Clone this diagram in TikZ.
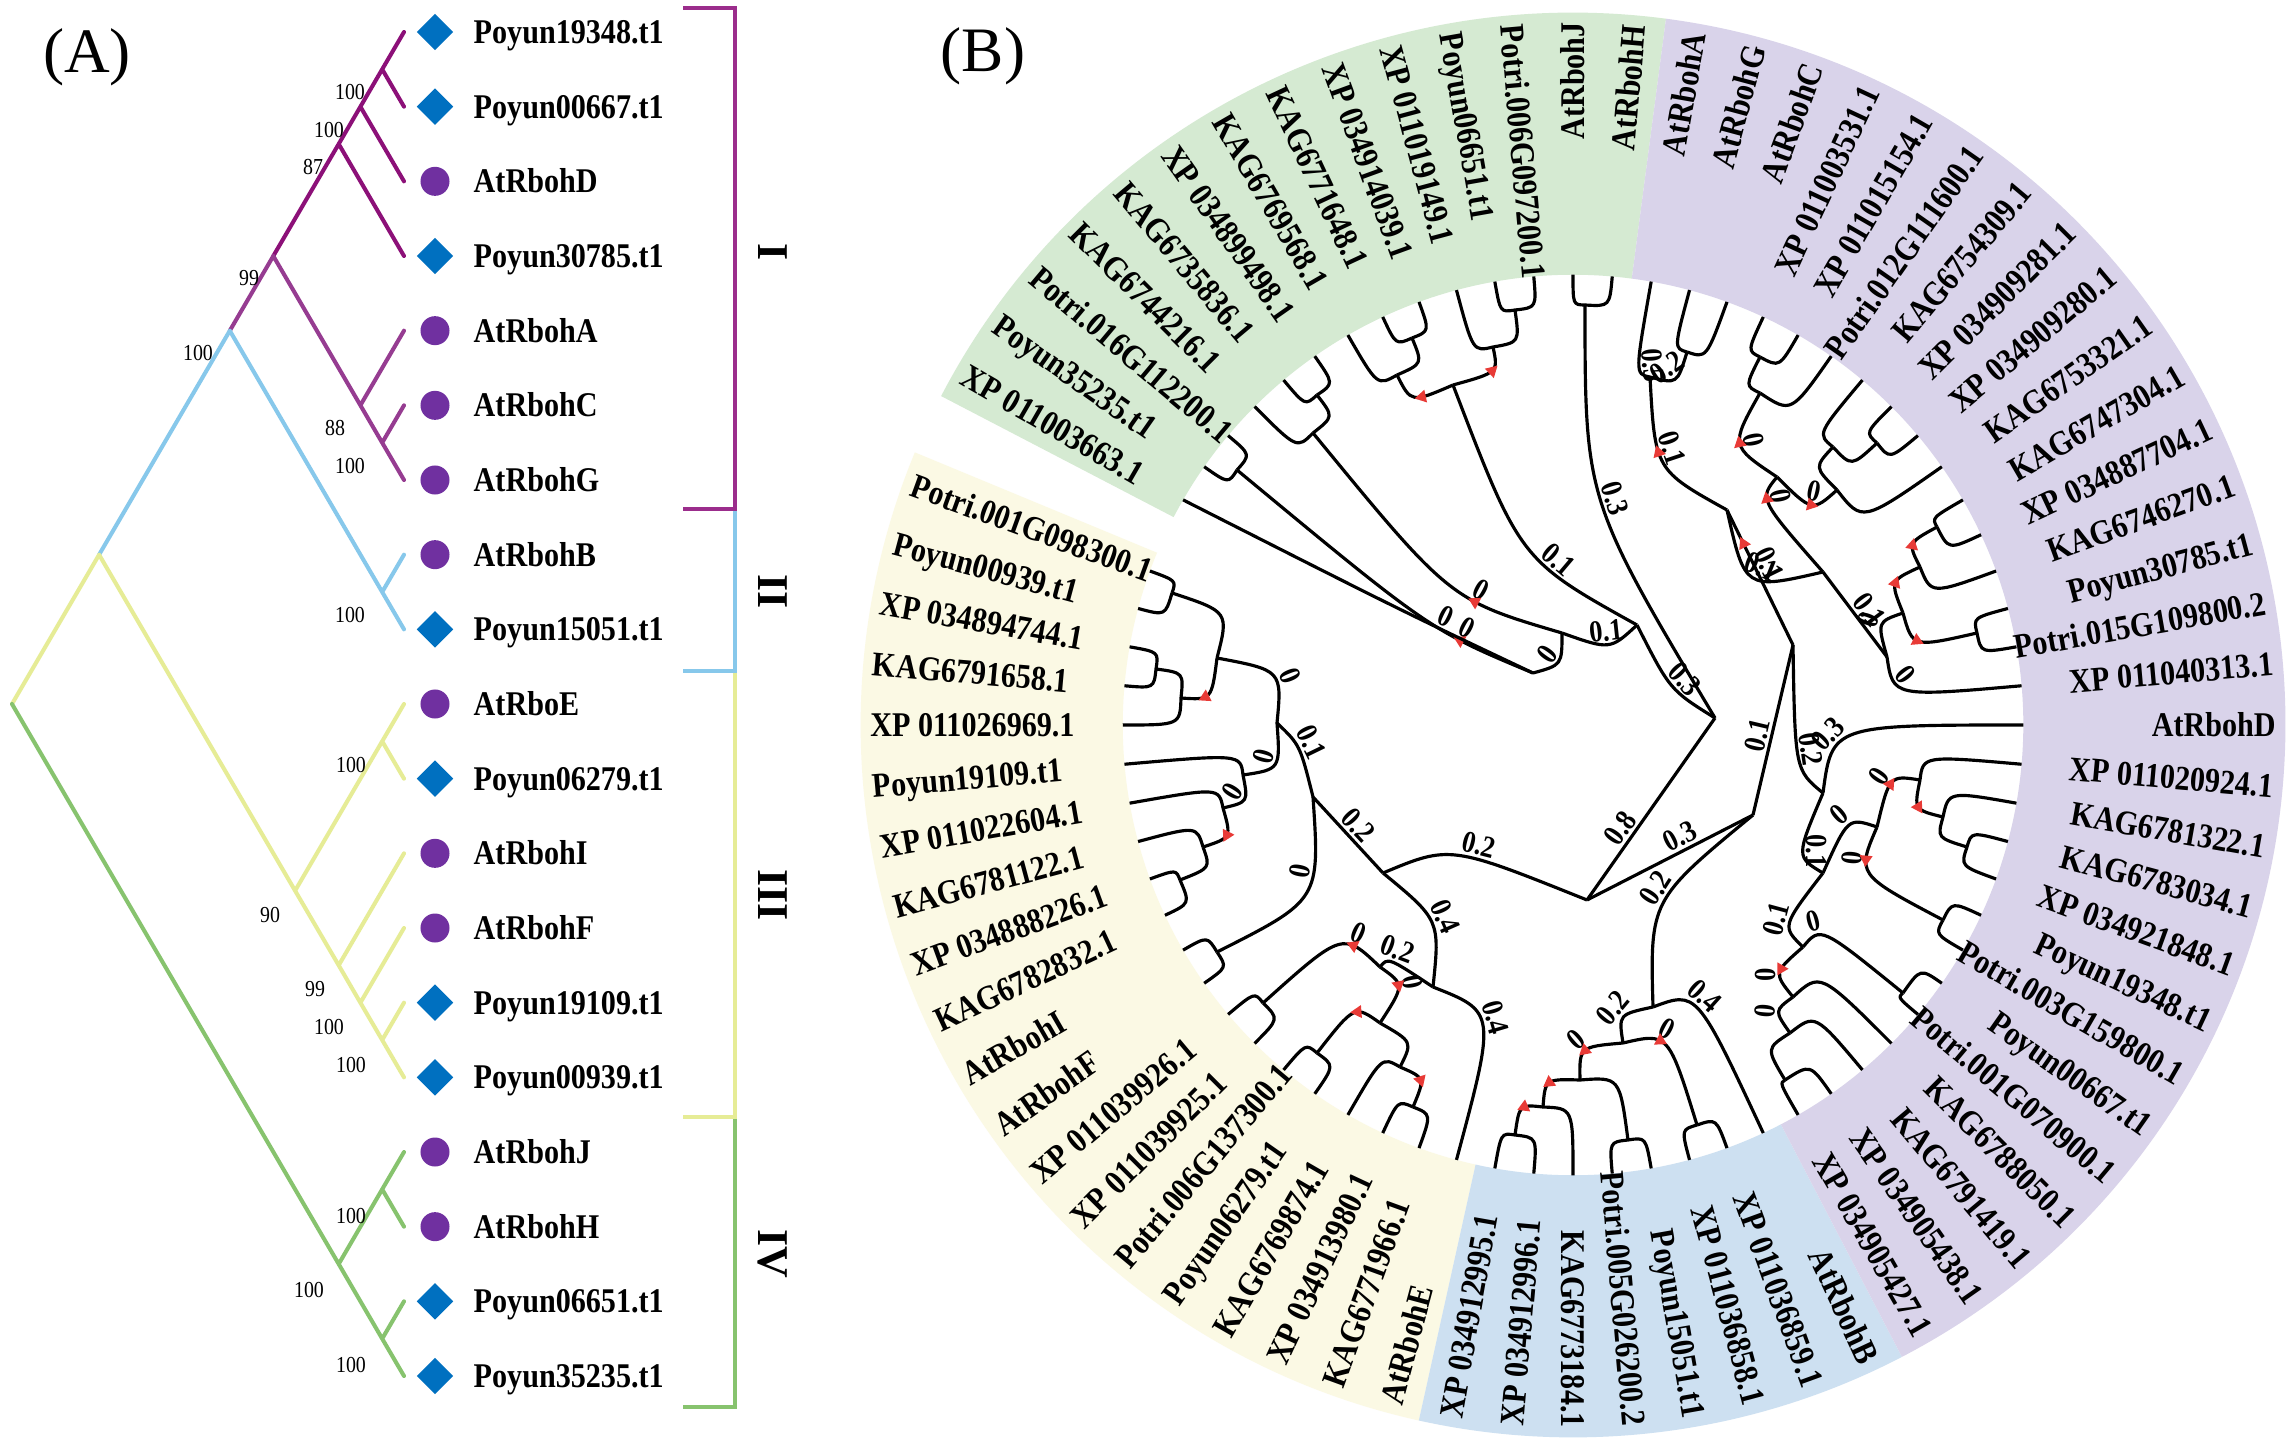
\documentclass[tikz,border=0pt]{standalone}
\usepackage{fontspec}
\setmainfont{Liberation Serif}
\newfontfamily\labf{Liberation Serif}[FakeStretch=0.87]
\usetikzlibrary{calc,shapes.geometric}
\definecolor{Ia}{RGB}{140,16,120}
\definecolor{Ib}{RGB}{150,60,145}
\definecolor{lb}{RGB}{135,200,235}
\definecolor{yl}{RGB}{230,236,150}
\definecolor{gr}{RGB}{135,195,110}
\definecolor{brI}{RGB}{155,45,140}
\definecolor{dblue}{RGB}{0,112,192}
\definecolor{cpurple}{RGB}{112,48,160}
\definecolor{gfill}{RGB}{213,234,210}
\definecolor{pfill}{RGB}{217,211,234}
\definecolor{bfill}{RGB}{205,224,241}
\definecolor{yfill}{RGB}{251,249,228}
\definecolor{trired}{RGB}{232,58,54}
\newcommand\ipt[3]{\coordinate (#1) at (#2,{1444-#3});}
\newcommand\tedge[3]{\draw[tl] let \p1=($(#1)-(O)$), \n1={veclen(\x1,\y1)} in (#1) .. controls ($(O)!\n1!(#2)$) .. (#2) #3;}
\newcommand\cedge[4]{\draw[tl] (#1) .. controls #2 .. (#3) #4;}
\newcommand\ringsec[3]{\fill[#1] ($(O)+(#2:4.5cm)$) arc[start angle=#2, end angle=#3, radius=4.5cm] -- ($(O)+(#3:7.12cm)$) arc[start angle=#3, end angle=#2, radius=7.12cm] -- cycle;}
\begin{document}
\begin{tikzpicture}[x=0.01cm,y=0.01cm,
  tl/.style={line width=0.9pt, line join=round},
  al/.style={line width=1.15pt, line cap=round},
  bl/.style={font=\labf\bfseries\fontsize{8.7pt}{9pt}\selectfont, sloped, above, inner sep=0.6pt},
  tri/.style={regular polygon, regular polygon sides=3, shape border rotate=-90, fill=trired, draw=none, inner sep=0pt, minimum size=0.15cm, sloped, allow upside down},
  lbl/.style={font=\labf\bfseries\fontsize{9.85pt}{11pt}\selectfont, inner sep=0pt, text height=6.6pt, text depth=0pt},
  bs/.style={font=\labf\fontsize{6.5pt}{7pt}\selectfont, inner sep=0pt},
  mkd/.style={diamond, fill=dblue, inner sep=0pt, minimum width=0.37cm, minimum height=0.37cm},
  mkc/.style={circle, fill=cpurple, inner sep=0pt, minimum size=0.29cm},
  rom/.style={font=\bfseries\fontsize{12.5pt}{13pt}\selectfont, rotate=-90, inner sep=0pt},
  pan/.style={font=\fontsize{18pt}{20pt}\selectfont, inner sep=0pt}
  ]
\useasboundingbox (0,0) rectangle (2290,1444);
\fill[white] (0,0) rectangle (2290,1444);

% ================= Panel A =================
\node[pan] (pA) at (87,{1444-57}) {(A)};
\foreach \i in {0,...,18} {\coordinate (t\i) at (404,{1444-32-74.667*\i});}
\ipt{a01}{382.2}{69.3}
\ipt{a012}{360.4}{106.7}
\ipt{a0123}{338.7}{144}
\ipt{aCG}{382.2}{442.7}
\ipt{aAG}{360.4}{405.3}
\ipt{aI}{273.3}{256}
\ipt{aII}{382.2}{592}
\ipt{aI2}{229.8}{330.7}
\ipt{aE}{382.2}{741.3}
\ipt{a1314}{382.2}{1040}
\ipt{a1214}{360.4}{1002.7}
\ipt{a1114}{338.7}{965.3}
\ipt{aIII}{295.1}{890.7}
\ipt{aX}{99.1}{554.7}
\ipt{aJH}{382.2}{1189.3}
\ipt{a1718}{382.2}{1338.7}
\ipt{aIV}{338.7}{1264}
\ipt{aR}{12}{704}

\draw[al,Ia] (t0)--(a01) (t1)--(a01) (a01)--(a012) (t2)--(a012) (a012)--(a0123) (t3)--(a0123) (a0123)--(aI);
\draw[al,Ib] (aI)--(aAG) (t4)--(aAG) (aCG)--(aAG) (t5)--(aCG) (t6)--(aCG) (aI)--(aI2);
\draw[al,lb] (aI2)--(aII) (t7)--(aII) (t8)--(aII) (aI2)--(aX);
\draw[al,yl] (aR)--(aX) (aX)--(aIII) (aIII)--(aE) (t9)--(aE) (t10)--(aE) (aIII)--(a1114) (t11)--(a1114) (a1114)--(a1214) (t12)--(a1214) (a1214)--(a1314) (t13)--(a1314) (t14)--(a1314);
\draw[al,gr] (aR)--(aIV) (aIV)--(aJH) (t15)--(aJH) (t16)--(aJH) (aIV)--(a1718) (t17)--(a1718) (t18)--(a1718);

\foreach \x/\y/\v [count=\k] in {350/92/100, 329/130/100, 313/167/87, 249/278/99, 198/353/100, 335/428/88, 350/466/100, 350/615/100, 351/765/100, 270/915/90, 315/989/99, 329/1027/100, 351/1065/100, 351/1216/100, 309/1290/100, 351/1365/100}
  {\node[bs] (bs\k) at (\x,{1444-\y}) {\v};}

\foreach \i in {0,1,3,8,10,13,14,17,18} {\node[mkd] (md\i) at (435,{1444-32-74.667*\i}) {};}
\foreach \i in {2,4,5,6,7,9,11,12,15,16} {\node[mkc] (mc\i) at (435,{1444-32-74.667*\i}) {};}
\foreach \i/\n in {0/Poyun19348.t1, 1/Poyun00667.t1, 2/AtRbohD, 3/Poyun30785.t1, 4/AtRbohA, 5/AtRbohC, 6/AtRbohG, 7/AtRbohB, 8/Poyun15051.t1, 9/AtRboE, 10/Poyun06279.t1, 11/AtRbohI, 12/AtRbohF, 13/Poyun19109.t1, 14/Poyun00939.t1, 15/AtRbohJ, 16/AtRbohH, 17/Poyun06651.t1, 18/Poyun35235.t1}
  {\node[lbl, anchor=west] (na\i) at (473,{1444-32-74.667*\i}) {\n};}

\draw[line width=0.9pt, gr] (683,{1444-1117}) -- (735,{1444-1117}) -- (735,{1444-1407}) -- (683,{1444-1407});
\draw[line width=0.9pt, yl] (683,{1444-671}) -- (735,{1444-671}) -- (735,{1444-1117}) -- (683,{1444-1117});
\draw[line width=0.9pt, lb] (683,{1444-509}) -- (735,{1444-509}) -- (735,{1444-671}) -- (683,{1444-671});
\draw[line width=0.9pt, brI] (683,{1444-8}) -- (735,{1444-8}) -- (735,{1444-509}) -- (683,{1444-509});
\node[rom] (rI) at (773,{1444-252}) {I};
\node[rom] (rII) at (773,{1444-592}) {II};
\node[rom] (rIII) at (773,{1444-895}) {III};
\node[rom] (rIV) at (773,{1444-1254}) {IV};

% ================= Panel B =================
\node[pan] (pB) at (983,{1444-56}) {(B)};
\ipt{O}{1573}{725}
\ringsec{gfill}{82.5}{152.5}
\ringsec{yfill}{157.5}{257.5}
\ringsec{bfill}{257.5}{297.5}
\ringsec{pfill}{297.5}{442.5}

\foreach \a in {0,5,...,150} {\coordinate (L\a) at ($(O)+(\a:4.5cm)$);}
\foreach \a in {160,165,...,355} {\coordinate (L\a) at ($(O)+(\a:4.5cm)$);}

\foreach \a/\t in {0/AtRbohD, 5/XP 011040313.1, 10/Potri.015G109800.2, 15/Poyun30785.t1, 20/KAG6746270.1, 25/XP 034887704.1, 30/KAG6747304.1, 35/KAG6753321.1, 40/XP 034909280.1, 45/XP 034909281.1, 50/KAG6754309.1, 55/Potri.012G111600.1, 60/XP 011015154.1, 65/XP 011003531.1, 70/AtRbohC, 75/AtRbohG, 80/AtRbohA, 85/AtRbohH, 90/AtRbohJ, 270/KAG6773184.1, 275/Potri.005G026200.2, 280/Poyun15051.t1, 285/XP 011036858.1, 290/XP 011036859.1, 295/AtRbohB, 300/XP 034905427.1, 305/XP 034905438.1, 310/KAG6791419.1, 315/KAG6788050.1, 320/Potri.001G070900.1, 325/Poyun00667.t1, 330/Potri.003G159800.1, 335/Poyun19348.t1, 340/XP 034921848.1, 345/KAG6783034.1, 350/KAG6781322.1, 355/XP 011020924.1}
  {\node[lbl, anchor=east, rotate=\a] (lb\a) at ($(O)+(\a:7.03cm)$) {\t};}
\foreach \a/\t in {95/Potri.006G097200.1, 100/Poyun06651.t1, 105/XP 011019149.1, 110/XP 034914039.1, 115/KAG6771648.1, 120/KAG6769568.1, 125/XP 034899498.1, 130/KAG6735836.1, 135/KAG6744216.1, 140/Potri.016G112200.1, 145/Poyun35235.t1, 150/XP 011003663.1, 160/Potri.001G098300.1, 165/Poyun00939.t1, 170/XP 034894744.1, 175/KAG6791658.1, 180/XP 011026969.1, 185/Poyun19109.t1, 190/XP 011022604.1, 195/KAG6781122.1, 200/XP 034888226.1, 205/KAG6782832.1, 210/AtRbohI, 215/AtRbohF, 220/XP 011039926.1, 225/XP 011039925.1, 230/Potri.006G137300.1, 235/Poyun06279.t1, 240/KAG6769874.1, 245/XP 034913980.1, 250/KAG6771966.1, 255/AtRbohE, 260/XP 034912995.1, 265/XP 034912996.1}
  {\pgfmathsetmacro\rr{\a-180}\node[lbl, anchor=west, rotate=\rr] (lb\a) at ($(O)+(\a:7.03cm)$) {\t};}

% internal nodes
\ipt{R}{1587}{900}
\ipt{G0}{1715}{718}
\ipt{P0}{1753}{815}
\ipt{P1}{1793}{645}
\ipt{Y0}{1383}{873}
\ipt{gJH}{1585}{305}
\ipt{gC}{1637}{625}
\ipt{gB}{1453}{385}
\ipt{gR}{1493}{347}
\ipt{c95}{1515}{310}
\ipt{gL}{1397}{375}
\ipt{c110}{1412}{338}
\ipt{gD}{1562}{633}
\ipt{gT}{1313}{433}
\ipt{c125}{1317}{395}
\ipt{gE}{1533}{673}
\ipt{c140}{1237}{470}
\ipt{pX}{1727}{510}
\ipt{pAGC}{1650}{377}
\ipt{cAG}{1687}{352}
\ipt{pY}{1823}{572}
\ipt{Q}{1777}{477}
\ipt{q1}{1760}{393}
\ipt{c65}{1760}{357}
\ipt{q2}{1837}{490}
\ipt{q3}{1833}{447}
\ipt{c45}{1877}{443}
\ipt{pZ}{1887}{657}
\ipt{pW}{1903}{613}
\ipt{pV}{1920}{567}
\ipt{pU}{1937}{527}
\ipt{c15}{1977}{633}
\ipt{pB0}{1823}{793}
\ipt{pB1}{1823}{873}
\ipt{pB2}{1877}{827}
\ipt{pB4}{1920}{780}
\ipt{pB5}{1943}{817}
\ipt{c345}{1967}{847}
\ipt{c335}{1943}{920}
\ipt{pB3}{1803}{947}
\ipt{c325}{1903}{993}
\ipt{pB6}{1793}{997}
\ipt{pB7}{1790}{1033}
\ipt{c305}{1785}{1080}
\ipt{bB0}{1653}{1007}
\ipt{bB1}{1623}{1043}
\ipt{bB2}{1580}{1080}
\ipt{c280}{1628}{1140}
\ipt{bB3}{1543}{1107}
\ipt{c265}{1515}{1135}
\ipt{c290}{1697}{1125}
\ipt{Y1}{1313}{797}
\ipt{Y3}{1277}{723}
\ipt{ya}{1217}{658}
\ipt{c160}{1172}{593}
\ipt{yb}{1181}{698}
\ipt{c170}{1156}{669}
\ipt{yc}{1243}{775}
\ipt{yd}{1223}{808}
\ipt{ye}{1203}{847}
\ipt{c200}{1180}{880}
\ipt{c210}{1217}{952}
\ipt{Y2}{1433}{987}
\ipt{Y4}{1380}{967}
\ipt{c220}{1263}{1003}
\ipt{Y5}{1380}{1023}
\ipt{c230}{1317}{1053}
\ipt{Y6}{1400}{1067}
\ipt{c245}{1413}{1107}

% central
\draw[tl] (R) -- (G0) node[bl,pos=.35]{0.8};
\draw[tl] (R) -- (P0) node[bl,pos=.6]{0.3};
\cedge{R}{(1450,599)}{Y0}{node[bl,pos=.4]{0.2}}
\draw[tl] (P0) -- (P1) node[bl,pos=.45]{0.1};
\cedge{P0}{(1650,544)}{bB0}{node[bl,pos=.45]{0.2}}
\draw[tl] (P1) -- (pX) node[bl,pos=.55]{0.1} node[tri,pos=.75]{};
\cedge{P1}{(1795,674)}{pB0}{node[bl,pos=.45]{0.2}}

% green
\cedge{G0}{(1585,944)}{gJH}{node[bl,pos=.5]{0.3}}
\cedge{G0}{(1670,754)}{gC}{node[bl,pos=.45]{0.3}}
\cedge{gC}{(1520,884)}{gB}{node[bl,pos=.35]{0.1}}
\cedge{gC}{(1610,794)}{gD}{node[bl,pos=.5]{0.1}}
\cedge{gD}{(1450,844)}{gT}{node[bl,pos=.35]{0} node[tri,pos=.35]{}}
\cedge{gD}{(1562,779)}{gE}{node[bl,pos=.5]{0}}
\cedge{gE}{(1430,814)}{c140}{node[bl,pos=.3]{0} node[tri,pos=.3]{}}
\cedge{gE}{(1400,834)}{L150}{node[bl,pos=.3]{0}}
\tedge{gB}{gL}{node[tri,pos=.35]{}}
\tedge{gB}{gR}{node[tri,pos=.5]{}}
\tedge{gR}{c95}{} \tedge{gR}{L105}{}
\tedge{c95}{L95}{} \tedge{c95}{L100}{}
\tedge{gL}{c110}{} \tedge{gL}{L120}{}
\tedge{c110}{L110}{} \tedge{c110}{L115}{}
\tedge{gJH}{L85}{} \tedge{gJH}{L90}{}
\tedge{gT}{c125}{} \tedge{gT}{L135}{}
\tedge{c125}{L125}{} \tedge{c125}{L130}{}
\tedge{c140}{L140}{} \tedge{c140}{L145}{}

% purple top
\cedge{pX}{(1655,974)}{pAGC}{node[bl,pos=.6]{0.1} node[tri,pos=.6]{}}
\cedge{pX}{(1745,854)}{pY}{node[bl,pos=.55]{0.1}}
\tedge{pAGC}{L80}{node[bl,pos=.45]{0.5}}
\tedge{pAGC}{cAG}{node[bl,pos=.5]{0.2}}
\tedge{cAG}{L75}{} \tedge{cAG}{L70}{}
\tedge{pY}{Q}{node[bl,pos=.6]{0} node[tri,pos=.6]{}}
\tedge{Q}{q1}{node[bl,pos=.5]{0} node[tri,pos=.5]{}}
\tedge{Q}{q2}{node[bl,pos=.5]{0} node[tri,pos=.5]{}}
\tedge{q1}{c65}{} \tedge{q1}{L55}{}
\tedge{c65}{L65}{} \tedge{c65}{L60}{}
\tedge{q2}{q3}{} \tedge{q2}{L35}{}
\tedge{q3}{L50}{} \tedge{q3}{c45}{}
\tedge{c45}{L45}{} \tedge{c45}{L40}{}
\draw[tl] (pY) -- (pZ) node[bl,pos=.55]{0.1};
\tedge{pZ}{pW}{node[bl,pos=.5]{0}}
\tedge{pZ}{L5}{node[bl,pos=.3]{0}}
\tedge{pW}{pV}{node[tri,pos=.5]{}}
\tedge{pW}{c15}{node[tri,pos=.45]{}}
\tedge{pV}{pU}{node[tri,pos=.45]{}}
\tedge{pV}{L20}{}
\tedge{pU}{L30}{} \tedge{pU}{L25}{}
\tedge{c15}{L15}{} \tedge{c15}{L10}{}

% purple bottom
\tedge{pB0}{L0}{node[bl,pos=.35]{0.3}}
\tedge{pB0}{pB1}{node[bl,pos=.5]{0.1}}
\tedge{pB1}{pB2}{node[bl,pos=.5]{0}}
\tedge{pB1}{pB3}{node[bl,pos=.5]{0.1}}
\tedge{pB2}{pB4}{node[bl,pos=.45]{0} node[tri,pos=.45]{}}
\tedge{pB2}{c335}{node[bl,pos=.3]{0} node[tri,pos=.3]{}}
\tedge{pB4}{L355}{}
\tedge{pB4}{pB5}{node[tri,pos=.5]{}}
\tedge{pB5}{L350}{} \tedge{pB5}{c345}{}
\tedge{c345}{L345}{} \tedge{c345}{L340}{}
\tedge{c335}{L335}{} \tedge{c335}{L330}{}
\tedge{pB3}{c325}{node[bl,pos=.3]{0}}
\tedge{pB3}{pB6}{node[bl,pos=.55]{0} node[tri,pos=.4]{}}
\tedge{c325}{L325}{} \tedge{c325}{L320}{}
\tedge{pB6}{L315}{}
\tedge{pB6}{pB7}{node[bl,pos=.5]{0}}
\tedge{pB7}{L310}{} \tedge{pB7}{c305}{}
\tedge{c305}{L305}{} \tedge{c305}{L300}{}

% blue
\tedge{bB0}{bB1}{node[bl,pos=.5]{0.2}}
\tedge{bB0}{L295}{node[bl,pos=.45]{0.4}}
\tedge{bB1}{bB2}{node[bl,pos=.5]{0} node[tri,pos=.5]{}}
\tedge{bB1}{c290}{node[bl,pos=.4]{0} node[tri,pos=.4]{}}
\tedge{bB2}{c280}{}
\tedge{bB2}{bB3}{node[tri,pos=.5]{}}
\tedge{bB3}{L270}{}
\tedge{bB3}{c265}{node[tri,pos=.4]{}}
\tedge{c290}{L290}{} \tedge{c290}{L285}{}
\tedge{c280}{L280}{} \tedge{c280}{L275}{}
\tedge{c265}{L265}{} \tedge{c265}{L260}{}

% yellow
\draw[tl] (Y0) -- (Y1) node[bl,pos=.5]{0.2};
\cedge{Y0}{(1440,524)}{Y2}{node[bl,pos=.5]{0.4}}
\cedge{Y1}{(1300,699)}{Y3}{node[bl,pos=.5]{0.1}}
\cedge{Y1}{(1320,544)}{c210}{node[bl,pos=.35]{0}}
\tedge{Y3}{ya}{node[bl,pos=.4]{0}}
\tedge{Y3}{yc}{node[bl,pos=.4]{0}}
\tedge{ya}{c160}{} \tedge{ya}{yb}{node[tri,pos=.6]{}}
\tedge{c160}{L160}{} \tedge{c160}{L165}{}
\tedge{yb}{c170}{} \tedge{yb}{L180}{}
\tedge{c170}{L170}{} \tedge{c170}{L175}{}
\tedge{yc}{L185}{} \tedge{yc}{yd}{node[bl,pos=.5]{0}}
\tedge{yd}{L190}{} \tedge{yd}{ye}{node[tri,pos=.5]{}}
\tedge{ye}{L195}{} \tedge{ye}{c200}{}
\tedge{c200}{L200}{} \tedge{c200}{L205}{}
\tedge{c210}{L210}{} \tedge{c210}{L215}{}
\tedge{Y2}{Y4}{node[bl,pos=.5]{0.2}}
\tedge{Y2}{L255}{node[bl,pos=.45]{0.4}}
\tedge{Y4}{c220}{node[bl,pos=.3]{0} node[tri,pos=.3]{}}
\tedge{Y4}{Y5}{node[bl,pos=.45]{0} node[tri,pos=.45]{}}
\tedge{c220}{L220}{} \tedge{c220}{L225}{}
\tedge{Y5}{c230}{node[tri,pos=.4]{}}
\tedge{Y5}{Y6}{}
\tedge{c230}{L230}{} \tedge{c230}{L235}{}
\tedge{Y6}{L240}{} \tedge{Y6}{c245}{node[tri,pos=.5]{}}
\tedge{c245}{L245}{} \tedge{c245}{L250}{}
\end{tikzpicture}
\end{document}
